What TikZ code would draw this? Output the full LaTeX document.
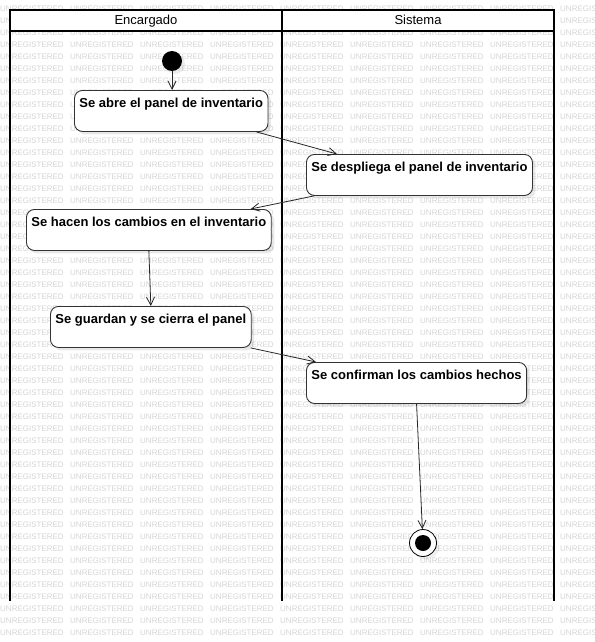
\documentclass[tikz,border=0pt]{standalone}
\usepackage{fontspec}
\setmainfont{Liberation Sans}
\usepackage{tikz}
\usetikzlibrary{arrows.meta}
\usetikzlibrary{shadows}

\begin{document}
\begin{tikzpicture}[x=1pt,y=-1pt,
  marca/.style={anchor=west, inner sep=0pt, text=black!17, font=\fontsize{8}{8}\selectfont},
  carril/.style={draw=black, line width=2pt},
  titulo/.style={inner sep=0pt, anchor=base, font=\fontsize{13}{15}\selectfont},
  actividad/.style={draw=black!80, line width=0.9pt, fill=white, rounded corners=8pt,
    inner xsep=5pt, inner ysep=4pt, text height=13pt, text depth=20pt, anchor=north west,
    font=\bfseries\fontsize{13}{15}\selectfont,
    drop shadow={shadow xshift=3pt, shadow yshift=-3pt, opacity=0.18}},
  inicio/.style={circle, fill=black, minimum size=20pt, inner sep=0pt,
    drop shadow={shadow xshift=3pt, shadow yshift=-3pt, opacity=0.15}},
  final/.style={circle, draw=black, line width=0.8pt, fill=white, minimum size=27pt, inner sep=0pt,
    drop shadow={shadow xshift=3pt, shadow yshift=-3pt, opacity=0.12},
    path picture={\fill[black] (path picture bounding box.center) circle (8pt);}},
  flecha/.style={draw=black!85, line width=0.8pt, -{Straight Barb[length=8pt,width=8pt]}}]

\useasboundingbox (0,0) rectangle (594,642);

% marca de agua
\foreach \i in {0,...,8} {
  \foreach \j in {0,...,52} {
    \node[marca] (m\i-\j) at (70*\i, 8.5+12*\j) {UNREGISTERED};
  }
}

% carriles
\draw[carril, fill=white] (10,10) rectangle (554,31);
\draw[carril] (10,10) -- (10,601);
\draw[carril] (282,10) -- (282,601);
\draw[carril] (554,10) -- (554,601);
\node[titulo] (enc) at (146,24.5) {Encargado};
\node[titulo] (sis) at (418,24.5) {Sistema};

% actividades
\node[inicio] (ini) at (172,61) {};
\node[actividad] (abre) at (74,90) {Se abre el panel de inventario};
\node[actividad] (despl) at (306,154) {Se despliega el panel de inventario};
\node[actividad] (cambios) at (26,209) {Se hacen los cambios en el inventario};
\node[actividad] (guarda) at (50,306) {Se guardan y se cierra el panel};
\node[actividad] (conf) at (306,362) {Se confirman los cambios hechos};
\node[final] (fin) at (423,543) {};

% transiciones
\draw[flecha] (ini) -- (abre.north -| ini);
\draw[flecha] ([xshift=-12pt]abre.south east) -- ([xshift=31pt]despl.north west);
\draw[flecha] ([xshift=8pt]despl.south west) -- ([xshift=-21pt]cambios.north east);
\draw[flecha] (cambios.south) -- (guarda.north);
\draw[flecha] ([xshift=-1pt]guarda.south east) -- ([xshift=10pt]conf.north west);
\draw[flecha] (conf.south) -- (fin);

\end{tikzpicture}
\end{document}
